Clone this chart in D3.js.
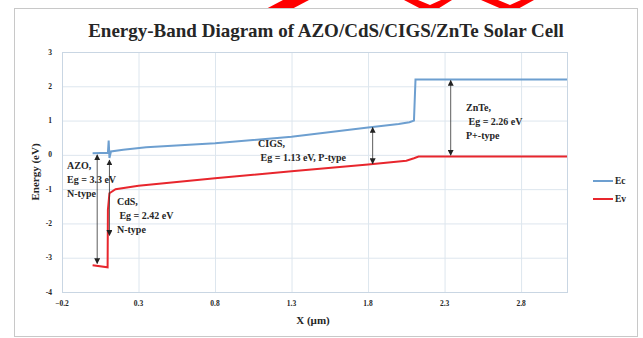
<!DOCTYPE html>
<html>
<head>
<meta charset="utf-8">
<script src="https://cdn.jsdelivr.net/npm/d3@7"></script>
<style>
  body { margin: 0; background: #fff; }
  text { font-family: "Liberation Serif", "DejaVu Serif", serif; fill: #262626; }
</style>
</head>
<body>
<svg id="chart" width="643" height="338"></svg>
<script>
// conduction band (Ec) and valence band (Ev)
const ecX = [0.0, 0.10, 0.105, 0.11, 0.12, 0.2, 0.35, 0.8, 1.3, 1.8, 2.0, 2.07, 2.1, 2.11, 3.1];
const ecY = [0.05, 0.06, 0.42, -0.09, 0.1, 0.15, 0.22, 0.34, 0.53, 0.8, 0.9, 0.95, 1.0, 2.2, 2.2];
const evX = [0.0, 0.098, 0.1, 0.11, 0.15, 0.3, 0.8, 1.3, 1.8, 2.05, 2.1, 2.13, 3.1];
const evY = [-3.22, -3.28, -1.6, -1.12, -1.0, -0.9, -0.68, -0.48, -0.28, -0.17, -0.1, -0.05, -0.05];

const xTicks = [-0.2, 0.3, 0.8, 1.3, 1.8, 2.3, 2.8];
const yTicks = [-4, -3, -2, -1, 0, 1, 2, 3];

// band gap arrows: x, top, bottom
const arrowX = [0.03, 0.11, 1.83, 2.34];
const arrowTop = [0.0, -0.15, 0.8, 2.17];
const arrowBot = [-3.17, -2.35, -0.26, -0.01];

// layer notes: first line position (data units), lines
const noteX = [-0.167, 0.159, 1.081, 2.44];
const noteY = [-0.41, -1.46, 0.24, 1.29];
const noteLines = [
  ["AZO,", "Eg = 3.3 eV", "N-type"],
  ["CdS,", " Eg = 2.42 eV", "N-type"],
  ["CIGS,", " Eg = 1.13 eV, P-type"],
  ["ZnTe,", " Eg = 2.26 eV", "P+-type"]
];

const seriesNames = ["Ec", "Ev"];
const seriesColors = ["#6d9fd0", "#e8262d"];

const svg = d3.select("#chart");

// bits of a red shape cut off at the top edge of the picture
svg.append("path").attr("d", "M264,10 L290,10 L309,0 L283,0 Z").attr("fill", "#f00");
svg.append("path").attr("d", "M404,0 L423,10 L436,10 L452,0 L441,0 L430,5 L418,0 Z").attr("fill", "#f00");
svg.append("path").attr("d", "M481,0 L504,10 L516,10 L534,0 L521,0 L510,5 L498,0 Z").attr("fill", "#f00");

svg.append("rect")
  .attr("x", 14.5).attr("y", 8.5).attr("width", 623).attr("height", 328)
  .attr("fill", "#fff").attr("stroke", "#c8c8c8");

const x = d3.scaleLinear().domain([-0.2, 3.1]).range([62, 567]);
const y = d3.scaleLinear().domain([-4, 3]).range([292, 52]);

// grid
svg.append("g").selectAll("line").data(yTicks).join("line")
  .attr("x1", x(-0.2)).attr("x2", x(3.1))
  .attr("y1", d => y(d) + 0.5).attr("y2", d => y(d) + 0.5)
  .attr("stroke", "#dde6ee");
svg.append("g").selectAll("line").data(xTicks).join("line")
  .attr("y1", y(3)).attr("y2", y(-4))
  .attr("x1", d => x(d) + 0.5).attr("x2", d => x(d) + 0.5)
  .attr("stroke", "#dde6ee");
svg.append("rect")
  .attr("x", x(-0.2) + 0.5).attr("y", y(3) + 0.5)
  .attr("width", x(3.1) - x(-0.2)).attr("height", y(-4) - y(3))
  .attr("fill", "none").attr("stroke", "#c9d6e3");

// tick labels
svg.append("g").selectAll("text").data(yTicks).join("text")
  .attr("x", 52).attr("y", d => y(d) + 2.5)
  .attr("text-anchor", "end").attr("font-size", 7.5).attr("font-weight", "bold")
  .text(d => d);
svg.append("g").selectAll("text").data(xTicks).join("text")
  .attr("x", d => x(d)).attr("y", 306)
  .attr("text-anchor", "middle").attr("font-size", 7.5).attr("font-weight", "bold")
  .text(d3.format(".1f"));

// lines
const line = d3.line().x(d => x(d[0])).y(d => y(d[1]));
const series = [d3.zip(ecX, ecY), d3.zip(evX, evY)];
svg.append("g").selectAll("path").data(series).join("path")
  .attr("d", line)
  .attr("fill", "none")
  .attr("stroke", (d, i) => seriesColors[i])
  .attr("stroke-width", 2);

// arrows
const defs = svg.append("defs");
defs.append("marker").attr("id", "head")
  .attr("viewBox", "0 0 10 10").attr("refX", 9).attr("refY", 5)
  .attr("markerWidth", 6).attr("markerHeight", 6)
  .attr("markerUnits", "userSpaceOnUse")
  .attr("orient", "auto-start-reverse")
  .append("path").attr("d", "M0,0 L10,5 L0,10 Z").attr("fill", "#222");

svg.append("g").selectAll("line").data(arrowX).join("line")
  .attr("x1", d => x(d)).attr("x2", d => x(d))
  .attr("y1", (d, i) => y(arrowTop[i])).attr("y2", (d, i) => y(arrowBot[i]))
  .attr("stroke", "#333").attr("stroke-width", 0.8)
  .attr("marker-start", "url(#head)").attr("marker-end", "url(#head)");

// notes
noteLines.forEach((lines, i) => {
  const t = svg.append("text")
    .attr("x", x(noteX[i])).attr("y", y(noteY[i]))
    .attr("font-size", 10).attr("font-weight", "bold")
    .attr("xml:space", "preserve");
  lines.forEach((s, j) => {
    t.append("tspan").attr("x", x(noteX[i])).attr("dy", j ? 14 : 0).text(s);
  });
});

// title and axis titles
svg.append("text").attr("x", 326).attr("y", 37)
  .attr("text-anchor", "middle").attr("font-size", 19).attr("font-weight", "bold")
  .text("Energy-Band Diagram of AZO/CdS/CIGS/ZnTe Solar Cell");
svg.append("text").attr("transform", "translate(39,172) rotate(-90)")
  .attr("text-anchor", "middle").attr("font-size", 11).attr("font-weight", "bold")
  .text("Energy (eV)");
svg.append("text").attr("x", 313).attr("y", 324)
  .attr("text-anchor", "middle").attr("font-size", 11).attr("font-weight", "bold")
  .text("X (µm)");

// legend
const legend = svg.append("g").selectAll("g").data(seriesNames).join("g")
  .attr("transform", (d, i) => `translate(593,${181 + i * 18})`);
legend.append("line").attr("x1", 0).attr("x2", 20)
  .attr("stroke", (d, i) => seriesColors[i]).attr("stroke-width", 2);
legend.append("text").attr("x", 22).attr("y", 3)
  .attr("font-size", 9.5).attr("font-weight", "bold").text(d => d);
</script>
</body>
</html>
